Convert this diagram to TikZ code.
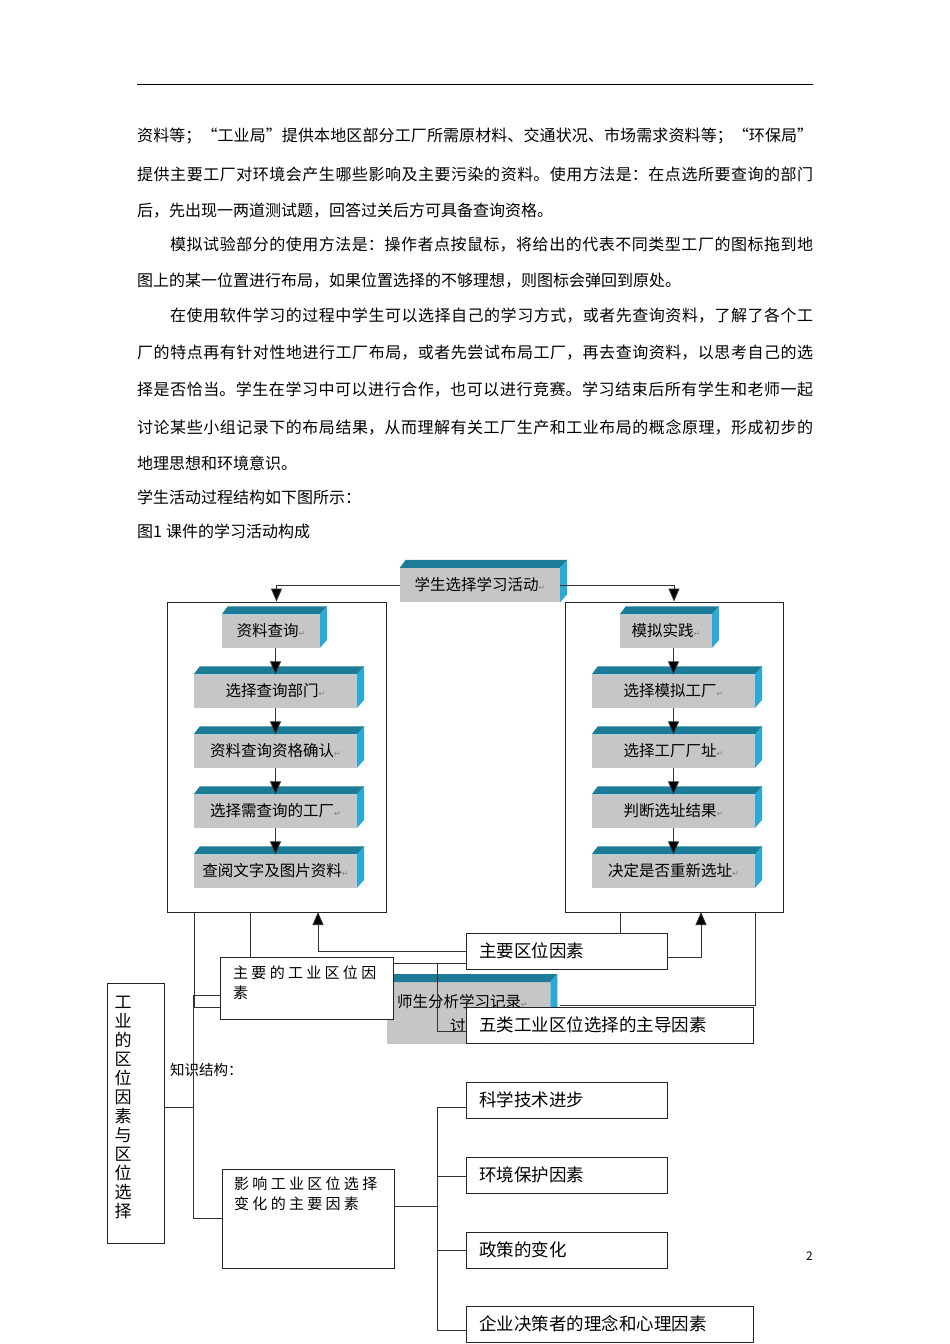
\documentclass[tikz,border=0pt]{standalone}
\usepackage{fontspec}
\setmainfont{Noto Sans CJK SC}
\newfontfamily\cjk{Noto Sans CJK SC}
\newfontfamily\cjksp[LetterSpace=22]{Noto Sans CJK SC}
\newfontfamily\djv{DejaVu Sans}
\usetikzlibrary{arrows.meta}
\definecolor{frontc}{HTML}{C6C6C8}
\definecolor{topc}{HTML}{1C7C98}
\definecolor{sidec}{HTML}{2AAAD8}
\newcommand\ret{{\djv\color{gray}\fontsize{8}{8}\selectfont ↵}}
\newcommand\jl[1]{\parbox{676pt}{\XeTeXlinebreaklocale "zh"\XeTeXlinebreakskip=0pt plus 3pt\parfillskip=0pt\noindent #1}}
\newcommand\threed[1]{%
  \fill[topc] (#1.north west) -- ++(6pt,8pt) -- ([shift={(7pt,8pt)}]#1.north east) -- (#1.north east) -- cycle;
  \fill[sidec] (#1.north east) -- ++(7pt,8pt) -- ([shift={(7pt,8pt)}]#1.south east) -- (#1.south east) -- cycle;}
\begin{document}
\begin{tikzpicture}[x=1pt,y=-1pt,
  txt/.style={anchor=west,inner sep=0pt,font=\fontsize{16}{16}\selectfont},
  fbox/.style={fill=frontc,inner sep=0pt,font=\fontsize{15.5}{15.5}\selectfont},
  wbox/.style={draw=black!85,fill=white,line width=0.9pt,inner sep=0pt},
  lbl/.style={anchor=west,inner sep=0pt,font=\fontsize{17.5}{17.5}\selectfont},
  ln/.style={draw=black!80,line width=0.9pt},
  arr/.style={ln,-{Triangle[width=11pt,length=13pt,fill=black]}}]
\useasboundingbox (0,0) rectangle (950,1344);
\fill[white] (0,0) rectangle (950,1344);
\draw[line width=0.8pt] (137,84) -- (813,84);
% text
\node[txt] (p1) at (137,136) {\jl{资料等；“工业局”提供本地区部分工厂所需原材料、交通状况、市场需求资料等；“环保局”}};
\node[txt] (p2) at (137,174) {\jl{提供主要工厂对环境会产生哪些影响及主要污染的资料。使用方法是：在点选所要查询的部门}};
\node[txt] (p3) at (137,211) {后，先出现一两道测试题，回答过关后方可具备查询资格。};
\node[txt] (p4) at (137,245) {\jl{\hspace*{33pt}模拟试验部分的使用方法是：操作者点按鼠标，将给出的代表不同类型工厂的图标拖到地}};
\node[txt] (p5) at (137,281) {图上的某一位置进行布局，如果位置选择的不够理想，则图标会弹回到原处。};
\node[txt] (p6) at (137,316) {\jl{\hspace*{33pt}在使用软件学习的过程中学生可以选择自己的学习方式，或者先查询资料，了解了各个工}};
\node[txt] (p7) at (137,353) {\jl{厂的特点再有针对性地进行工厂布局，或者先尝试布局工厂，再去查询资料，以思考自己的选}};
\node[txt] (p8) at (137,390) {\jl{择是否恰当。学生在学习中可以进行合作，也可以进行竞赛。学习结束后所有学生和老师一起}};
\node[txt] (p9) at (137,427) {\jl{讨论某些小组记录下的布局结果，从而理解有关工厂生产和工业布局的概念原理，形成初步的}};
\node[txt] (p10) at (137,463) {地理思想和环境意识。};
\node[txt] (p11) at (137,497) {学生活动过程结构如下图所示：};
\node[txt] (p12) at (137,531) {图1\hspace{4pt}课件的学习活动构成};
\node[txt,font=\fontsize{12}{12}\selectfont] (pg) at (806,1256) {2};
% big boxes
\node[wbox,minimum width=219pt,minimum height=310pt] (L) at (276.5,757) {};
\node[wbox,minimum width=218pt,minimum height=310pt] (R) at (674,757) {};
% top
\node[fbox,minimum width=160pt,minimum height=34pt] (top) at (480,585) {学生选择学习活动\ret};
\threed{top}
% left column
\node[fbox,minimum width=98pt,minimum height=33pt] (l1) at (271,631) {资料查询\ret};
\node[fbox,minimum width=163pt,minimum height=33pt] (l2) at (275.5,691) {选择查询部门\ret};
\node[fbox,minimum width=163pt,minimum height=33pt] (l3) at (275.5,751) {资料查询资格确认\ret};
\node[fbox,minimum width=163pt,minimum height=33pt] (l4) at (275.5,811) {选择需查询的工厂\ret};
\node[fbox,minimum width=163pt,minimum height=33pt] (l5) at (275.5,871) {查阅文字及图片资料\ret};
\foreach \n in {l1,l2,l3,l4,l5}{\threed{\n}}
% right column
\node[fbox,minimum width=92pt,minimum height=33pt] (r1) at (666,631) {模拟实践\ret};
\node[fbox,minimum width=163pt,minimum height=33pt] (r2) at (673.5,691) {选择模拟工厂\ret};
\node[fbox,minimum width=163pt,minimum height=33pt] (r3) at (673.5,751) {选择工厂厂址\ret};
\node[fbox,minimum width=163pt,minimum height=33pt] (r4) at (673.5,811) {判断选址结果\ret};
\node[fbox,minimum width=163pt,minimum height=33pt] (r5) at (673.5,871) {决定是否重新选址\ret};
\foreach \n in {r1,r2,r3,r4,r5}{\threed{\n}}
% arrows
\draw[arr] (top.west) -| (L.north);
\draw[arr] (top.east) -| (R.north);
\draw[arr] (l1.south -| l2.north) -- (l2.north);
\draw[arr] (l2) -- (l3.north);
\draw[arr] (l3) -- (l4.north);
\draw[arr] (l4) -- (l5.north);
\draw[arr] (r1.south -| r2.north) -- (r2.north);
\draw[arr] (r2) -- (r3.north);
\draw[arr] (r3) -- (r4.north);
\draw[arr] (r4) -- (r5.north);
% middle
\node[fbox,minimum width=163pt,minimum height=62pt,anchor=north west] (ss) at (387,982) {};
\threed{ss}
\node[anchor=west,inner sep=0pt,font=\fontsize{15.5}{15.5}\selectfont] (sst) at (397,1002) {师生分析学习记录\ret};
\node[anchor=west,inner sep=0pt,font=\fontsize{15.5}{15.5}\selectfont] (sst2) at (450,1026) {讨};
\coordinate (aL) at (318,912);
\coordinate (aR) at (701,912);
\coordinate (c1) at (620,912);
\coordinate (c2) at (755,912);
\coordinate (c3) at (755,1005);
\coordinate (c4) at (560,1005);
\coordinate (c5) at (194,912);
\coordinate (c6) at (250,912);
\coordinate (c7) at (437,963);
\coordinate (c8) at (193,995);
\coordinate (c9) at (193,1218);
\coordinate (c10) at (437,1107);
\coordinate (c11) at (437,1330);
\node[wbox,minimum width=201pt,minimum height=36pt,anchor=north west] (zy) at (466,933) {};
\node[lbl] at (479,951) {主要区位因素};
\draw[arr] (zy.west |- 0,951) -| (aL);
\draw[arr] (zy.east |- 0,957) -| (aR);
\draw[ln] (c1) -- (c1 |- zy.north);
\draw[ln] (c2) -- (c3) -- (c4);
\node[wbox,minimum width=173pt,minimum height=62pt,anchor=north west] (zg) at (220,957) {};
\node[anchor=north west,inner sep=0pt,font=\cjksp\fontsize{15}{20}\selectfont,align=left] at (233,966) {主要的工业区位因\\素};
\draw[ln] (c6) -- (c6 |- zg.north);
\draw[ln] (c5) -- (c5 |- 0,1007) -- (zg.west |- 0,1007);
\draw[ln] (zg.east |- c7) -- (zy.west |- c7);
\node[wbox,minimum width=287pt,minimum height=36pt,anchor=north west] (wl) at (466,1007) {};
\node[lbl] at (479,1025) {五类工业区位选择的主导因素};
\draw[ln] (c7) -- (c7 |- 0,1031) -- (wl.west |- 0,1031);
% knowledge tree
\node[wbox,minimum width=57pt,minimum height=260pt,anchor=north west] (gy) at (107,983) {};
\node[anchor=north,inner sep=0pt,font=\fontsize{17}{19}\selectfont,align=center] at (123,996) {工\\业\\的\\区\\位\\因\\素\\与\\区\\位\\选\\择};
\node[anchor=west,inner sep=0pt,font=\fontsize{14.5}{14.5}\selectfont] (zs) at (170,1070) {知识结构：};
\draw[ln] (gy.east |- 0,1107) -- (193,1107);
\draw[ln] (c8) -- (c9);
\draw[ln] (c8) -- (zg.west |- c8);
\node[wbox,minimum width=172pt,minimum height=99pt,anchor=north west] (yx) at (222,1169) {};
\node[anchor=north west,inner sep=0pt,font=\cjksp\fontsize{15}{20}\selectfont,align=left] at (234,1177) {影响工业区位选择\\变化的主要因素};
\draw[ln] (c9) -- (yx.west |- c9);
\draw[ln] (yx.east |- 0,1206) -- (437,1206);
\draw[ln] (c10) -- (c11);
\node[wbox,minimum width=201pt,minimum height=36pt,anchor=north west] (k1) at (466,1082) {};
\node[lbl] at (479,1100) {科学技术进步};
\node[wbox,minimum width=201pt,minimum height=36pt,anchor=north west] (k2) at (466,1157) {};
\node[lbl] at (479,1175) {环境保护因素};
\node[wbox,minimum width=201pt,minimum height=36pt,anchor=north west] (k3) at (466,1232) {};
\node[lbl] at (479,1250) {政策的变化};
\node[wbox,minimum width=287pt,minimum height=36pt,anchor=north west] (k4) at (466,1306) {};
\node[lbl] at (479,1324) {企业决策者的理念和心理因素};
\draw[ln] (c10) -- (k1.west |- c10);
\draw[ln] (c10 |- 0,1176) -- (k2.west |- 0,1176);
\draw[ln] (c10 |- 0,1250) -- (k3.west |- 0,1250);
\draw[ln] (c11) -- (k4.west |- c11);
\end{tikzpicture}
\end{document}
